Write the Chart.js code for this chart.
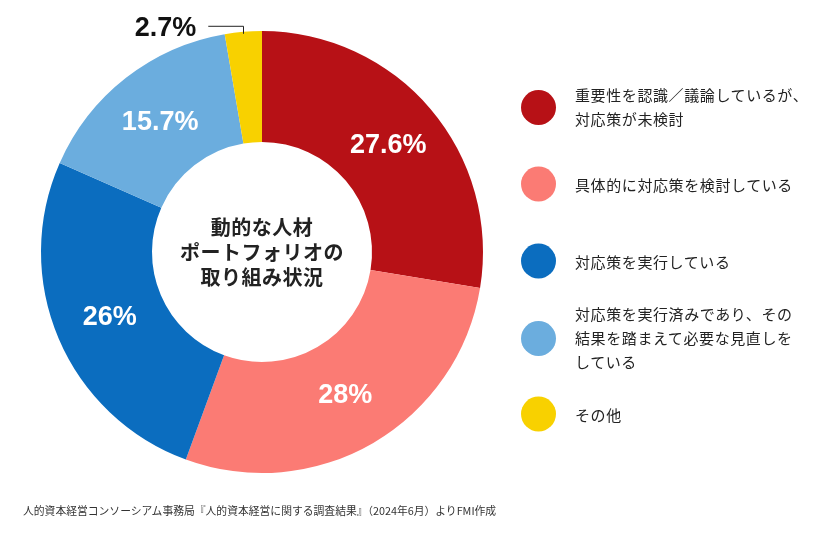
<!DOCTYPE html>
<html lang="ja">
<head>
<meta charset="utf-8">
<script src="https://cdn.jsdelivr.net/npm/chart.js@4.4.1/dist/chart.umd.min.js"></script>
<style>
  body { margin: 0; background: #fff; }
  #wrap { position: relative; width: 836px; height: 536px; }
  #legend { position: absolute; left: 0; top: 0; }
  .item { position: absolute; left: 521px; display: flex; align-items: center; transform: translateY(-50%); }
  .dot { width: 35px; height: 35px; border-radius: 50%; flex: none; }
  .txt { margin-left: 19px; font-family: "Noto Sans CJK JP", sans-serif; font-size: 15px; letter-spacing: 0.6px; line-height: 24px; color: #222; white-space: pre; }
  #src { position: absolute; left: 23px; top: 502px; font-family: "Noto Sans CJK JP", sans-serif; font-size: 10.8px; color: #333; white-space: nowrap; }
</style>
</head>
<body>
<div id="wrap">
  <canvas id="donut" width="836" height="536"></canvas>
  <div id="legend"></div>
  <div id="src">人的資本経営コンソーシアム事務局『人的資本経営に関する調査結果』（2024年6月）よりFMI作成</div>
</div>
<script>
// 取り組み状況の内訳 (%)
const categories = [
  '重要性を認識／議論しているが、\n対応策が未検討',
  '具体的に対応策を検討している',
  '対応策を実行している',
  '対応策を実行済みであり、その\n結果を踏まえて必要な見直しを\nしている',
  'その他'
];
const values = [27.6, 28, 26, 15.7, 2.7];
const valueLabels = ['27.6%', '28%', '26%', '15.7%', '2.7%'];
const colors = ['#b71116', '#fb7b74', '#0b6dbf', '#6badde', '#f8d100'];
const centerTitle = ['動的な人材', 'ポートフォリオの', '取り組み状況'];

// 凡例の縦位置
const legendY = [107, 184, 261, 338, 414];

// ドーナツの中の数字と中央の見出し
const labelPlugin = {
  id: 'labelPlugin',
  afterDatasetsDraw(chart) {
    const ctx = chart.ctx;
    const arcs = chart.getDatasetMeta(0).data;
    ctx.save();
    arcs.forEach(function(arc, i) {
      const p = arc.getProps(['x', 'y', 'startAngle', 'endAngle', 'innerRadius', 'outerRadius'], true);
      const mid = (p.startAngle + p.endAngle) / 2;
      ctx.font = 'bold 27px "Liberation Sans", Arial, sans-serif';
      ctx.textBaseline = 'middle';
      if (values[i] < 5) {
        // 小さい項目は外側に引き出し線つきで
        const ox = p.x + p.outerRadius * Math.cos(mid);
        const oy = p.y + p.outerRadius * Math.sin(mid);
        ctx.strokeStyle = '#222';
        ctx.lineWidth = 1;
        ctx.beginPath();
        ctx.moveTo(Math.round(ox) + 0.5, oy + 2);
        ctx.lineTo(Math.round(ox) + 0.5, oy - 5.5);
        ctx.lineTo(ox - 35, oy - 5.5);
        ctx.stroke();
        ctx.fillStyle = '#111';
        ctx.textAlign = 'right';
        ctx.fillText(valueLabels[i], ox - 47, oy - 3);
      } else {
        const r = (p.innerRadius + p.outerRadius) / 2;
        ctx.fillStyle = '#fff';
        ctx.textAlign = 'center';
        ctx.fillText(valueLabels[i], p.x + r * Math.cos(mid), p.y + r * Math.sin(mid) + 1);
      }
    });
    const a0 = arcs[0];
    ctx.fillStyle = '#222';
    ctx.textAlign = 'center';
    ctx.font = 'bold 20px "Noto Sans CJK JP", sans-serif';
    ctx.letterSpacing = '0.5px';
    centerTitle.forEach(function(line, k) {
      ctx.fillText(line, a0.x, a0.y - 25 + k * 25);
    });
    ctx.restore();
  }
};

const chart = new Chart(document.getElementById('donut'), {
  type: 'doughnut',
  data: {
    labels: categories,
    datasets: [{
      data: values,
      backgroundColor: colors,
      borderWidth: 0
    }]
  },
  options: {
    responsive: false,
    animation: false,
    cutout: 110,
    layout: { padding: { left: 40, top: 31, right: 352, bottom: 63 } },
    plugins: {
      legend: { display: false },
      tooltip: { enabled: false }
    }
  },
  plugins: [labelPlugin]
});

// 凡例はHTMLで
const legend = document.getElementById('legend');
categories.forEach(function(name, i) {
  const item = document.createElement('div');
  item.className = 'item';
  item.style.top = legendY[i] + 'px';
  item.innerHTML = '<div class="dot" style="background:' + colors[i] + '"></div><div class="txt"></div>';
  item.querySelector('.txt').textContent = name;
  legend.appendChild(item);
});
</script>
</body>
</html>
